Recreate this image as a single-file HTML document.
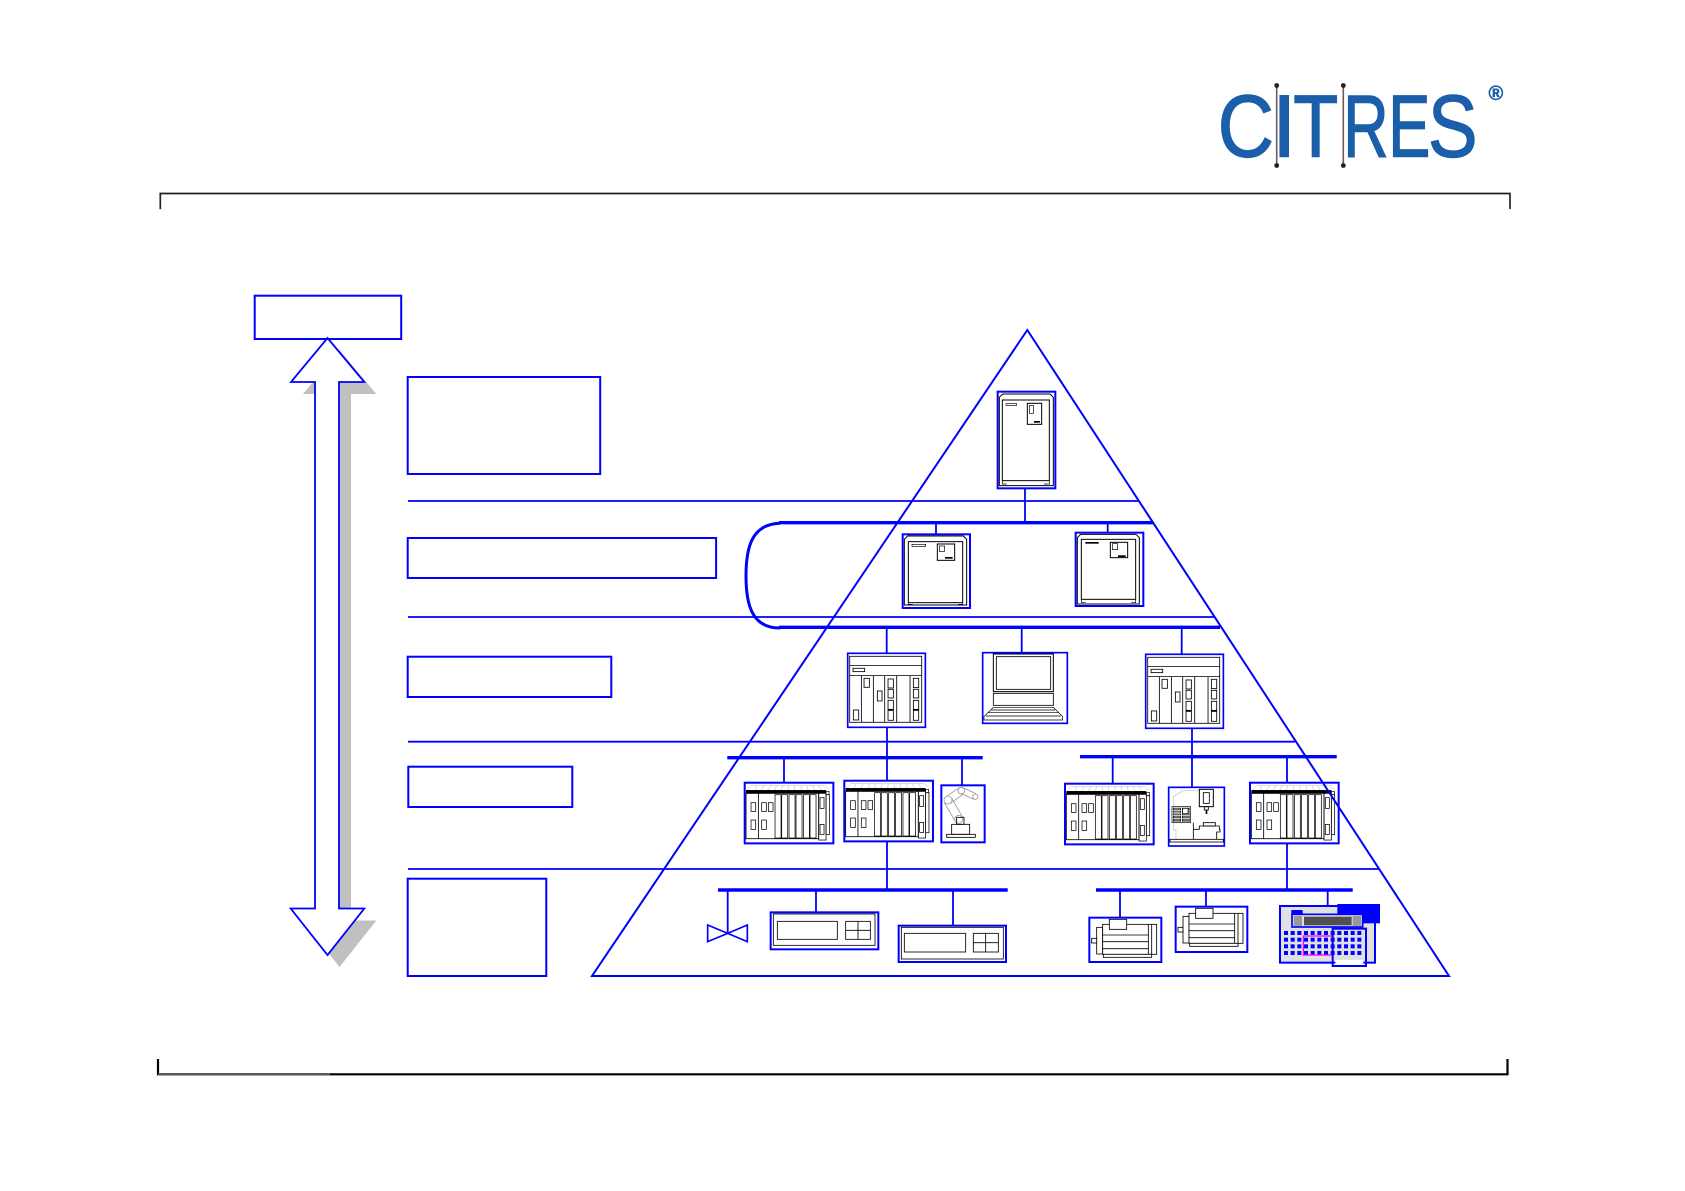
<!DOCTYPE html>
<html><head><meta charset="utf-8"><style>html,body{margin:0;padding:0;background:#fff;}svg{display:block}</style></head>
<body>
<svg xmlns="http://www.w3.org/2000/svg" width="1685" height="1191" viewBox="0 0 1685 1191">
<defs>
<g id="plc">
<rect x="0" y="0" width="233" height="222" fill="#fff" stroke="#00f" stroke-width="5"/>
<rect x="6" y="9" width="216" height="198" fill="none" stroke="#000" stroke-width="2.5"/>
<path d="M6,37 H222 M6,67 H222 M41,67 V207 M77,67 V207 M111,67 V207 M147,67 V207 M187,67 V207" stroke="#000" stroke-width="2.5" fill="none"/>
<g fill="none" stroke="#000" stroke-width="2.5">
<rect x="16" y="45" width="35" height="10"/>
<rect x="49" y="75" width="16" height="27"/>
<rect x="89" y="113" width="14" height="30"/>
<rect x="121" y="77" width="16" height="27"/>
<rect x="121" y="108" width="16" height="26"/>
<rect x="121" y="141" width="16" height="28"/>
<rect x="121" y="171" width="16" height="30"/>
<rect x="17" y="170" width="16" height="30"/>
<rect x="197" y="75" width="16" height="28"/>
<rect x="197" y="108" width="16" height="26"/>
<rect x="197" y="141" width="16" height="28"/>
<rect x="197" y="171" width="16" height="30"/>
</g>
<rect x="121" y="167" width="16" height="5" fill="#000"/>
<rect x="197" y="167" width="16" height="5" fill="#000"/>
</g>
<g id="rack">
<rect x="0" y="0" width="266" height="182" fill="#fff" stroke="#00f" stroke-width="6"/>
<path d="M8,22 L20,8 H240 L252,20 M30,22 L36,8 M50,22 L58,8 M70,22 L78,8 M90,22 L96,8 M110,22 L114,8 M130,22 L132,8 M150,22 L150,8 M170,22 L168,8 M190,22 L186,8 M210,22 L204,8 M230,22 L222,8" fill="none" stroke="#bbb" stroke-width="1.5"/>
<rect x="4" y="22" width="240" height="10" fill="#000"/>
<rect x="244" y="26" width="9" height="10" fill="#fff" stroke="#000" stroke-width="2"/>
<rect x="4" y="32" width="218" height="136" fill="none" stroke="#000" stroke-width="2.5"/>
<path d="M41,32 V168" stroke="#000" stroke-width="2.5"/>
<g fill="none" stroke="#000" stroke-width="2.2">
<rect x="91" y="36" width="18" height="130"/>
<rect x="111" y="36" width="18" height="130"/>
<rect x="133" y="36" width="18" height="130"/>
<rect x="154" y="36" width="18" height="130"/>
<rect x="176" y="36" width="18" height="130"/>
<rect x="196" y="36" width="18" height="130"/>
<rect x="222" y="32" width="22" height="140"/>
<rect x="226" y="45" width="12" height="32"/>
<rect x="226" y="125" width="12" height="30"/>
<rect x="244" y="36" width="10" height="120"/>
<rect x="19" y="60" width="14" height="26"/>
<rect x="51" y="60" width="14" height="26"/>
<rect x="71" y="60" width="14" height="26"/>
<rect x="19" y="112" width="14" height="28"/>
<rect x="51" y="112" width="14" height="28"/>
</g>
</g>
</defs>

<!-- Logo -->
<g fill="#1b5ea9" stroke="#1b5ea9" stroke-width="1.4" font-family="Liberation Sans, Arial, sans-serif" font-size="88">
<text x="1217.8" y="156.7" textLength="56.2" lengthAdjust="spacingAndGlyphs">C</text>
<text x="1272" y="156.7">I</text>
<text x="1293.3" y="156.7" textLength="44.9" lengthAdjust="spacingAndGlyphs">T</text>
<text x="1343.3" y="156.7" textLength="45.4" lengthAdjust="spacingAndGlyphs">R</text>
<text x="1388.3" y="156.7" textLength="42.1" lengthAdjust="spacingAndGlyphs">E</text>
<text x="1428" y="156.7" textLength="49.5" lengthAdjust="spacingAndGlyphs">S</text>
<text x="1488.5" y="100" font-size="20" font-weight="bold" stroke-width="0.5">®</text>
</g>
<g stroke="#6e5b55" stroke-width="1.6">
<line x1="1276.7" y1="85" x2="1276.7" y2="166"/>
<line x1="1343.3" y1="85" x2="1343.3" y2="166"/>
</g>
<g fill="#222">
<circle cx="1276.7" cy="85.5" r="2.4"/><circle cx="1276.7" cy="165.5" r="2.4"/>
<circle cx="1343.3" cy="85.5" r="2.4"/><circle cx="1343.3" cy="165.5" r="2.4"/>
</g>

<!-- Frame -->
<path d="M160.3,209.3 V193.5 H1510 V209" fill="none" stroke="#222" stroke-width="1.7"/>
<path d="M158,1059 V1074.3 H1507.5 V1059" fill="none" stroke="#000" stroke-width="2.2"/>
<path d="M158,1074.3 H330" stroke="#555" stroke-width="2.2"/>

<!-- Arrow -->
<polygon points="339.5,350 376.3,394 351,394 351,920.5 376.3,920.5 339.5,967 302.7,920.5 327,920.5 327,394 303,394" fill="#c0c0c0"/>
<polygon points="327.5,338 364.3,382 339,382 339,908.5 364.3,908.5 327.5,955 290.7,908.5 315,908.5 315,382 291,382" fill="#fff" stroke="#00f" stroke-width="1.8" stroke-linejoin="miter"/>

<!-- Left boxes -->
<g fill="none" stroke="#00f" stroke-width="2">
<rect x="254.7" y="295.7" width="146.5" height="43.3"/>
<rect x="407.7" y="377" width="192.5" height="97"/>
<rect x="407.7" y="538" width="308.4" height="40"/>
<rect x="407.7" y="656.7" width="203.6" height="40.3"/>
<rect x="408.3" y="766.7" width="164" height="40.3"/>
<rect x="407.7" y="878.7" width="138.6" height="97.3"/>
</g>

<!-- Thin separator lines -->
<g stroke="#00f" stroke-width="1.8" fill="none">
<path d="M408,501 H1138 M408,617 H1215 M408,741.7 H1295 M408,869 H1379"/>
</g>

<!-- Buses -->
<g stroke="#00f" stroke-width="3.4" fill="none">
<path d="M779,522.7 H1153.5"/>
<path d="M779,627.3 H1220"/>
<path d="M727.3,757.7 H982.7"/>
<path d="M1080,756.7 H1336.7"/>
<path d="M718,890 H1007.7"/>
<path d="M1096,890 H1352.7"/>
</g>
<path d="M780,523.3 C753,524 746,545 746,576 C746,607 753,628 780,628" fill="none" stroke="#00f" stroke-width="3"/>

<!-- Stubs -->
<g stroke="#00f" stroke-width="1.8" fill="none">
<path d="M1025,484 V522 M936,523 V534.3 M1107.7,523 V532.7 M886.7,627 V653.3 M1021.7,627 V652.7 M1181.7,627 V654.3"/>
<path d="M887,727 V781 M887,841 V890 M784,757 V782.7 M962,757 V785.5 M1112.7,757 V783.7 M1192,728 V787.3 M1287,757 V782.7 M1287,842.7 V890"/>
<path d="M727.7,890 V933.3 M816,890 V912.3 M953,890 V925.7 M1120,890 V917.7 M1206,890 V906.7 M1327.7,890 V906"/>
</g>

<!-- Servers (zoom3 coords) -->
<g transform="translate(740,320) scale(0.33333)">
<rect x="773" y="215" width="173" height="290" fill="#fff" stroke="#00f" stroke-width="6"/>
<path d="M778,232 L788,222 L930,222 L940,232 L940,497 L778,497 Z" fill="#fff" stroke="#000" stroke-width="3"/>
<rect x="787" y="240" width="141" height="242" fill="none" stroke="#000" stroke-width="3"/>
<path d="M787,482 V492 H800 M928,482 V492 H912" stroke="#000" stroke-width="2" fill="none"/>
<rect x="798" y="251" width="32" height="5" fill="none" stroke="#000" stroke-width="2"/>
<rect x="862" y="250" width="43" height="63" fill="none" stroke="#000" stroke-width="3"/>
<rect x="868" y="256" width="12" height="24" fill="none" stroke="#000" stroke-width="2"/>
<rect x="882" y="303" width="18" height="5" fill="#000"/>

<rect x="488" y="643" width="202" height="221" fill="#fff" stroke="#00f" stroke-width="6"/>
<path d="M493,658 L503,648 L670,648 L680,658 L680,855 L493,855 Z" fill="#fff" stroke="#000" stroke-width="3"/>
<rect x="505" y="665" width="163" height="183" fill="none" stroke="#000" stroke-width="3"/>
<path d="M505,848 V853 H518 M668,848 V853 H655" stroke="#000" stroke-width="2" fill="none"/>
<rect x="516" y="673" width="41" height="6" fill="none" stroke="#000" stroke-width="2"/>
<rect x="592" y="672" width="52" height="49" fill="none" stroke="#000" stroke-width="3"/>
<rect x="598" y="678" width="16" height="16" fill="none" stroke="#000" stroke-width="2"/>
<rect x="615" y="711" width="23" height="5" fill="#000"/>

<rect x="1007" y="638" width="203" height="220" fill="#fff" stroke="#00f" stroke-width="6"/>
<path d="M1012,653 L1022,643 L1188,643 L1198,653 L1198,852 L1012,852 Z" fill="#fff" stroke="#000" stroke-width="3"/>
<rect x="1024" y="658" width="163" height="180" fill="none" stroke="#000" stroke-width="3"/>
<path d="M1024,838 V848 H1037 M1187,838 V848 H1174" stroke="#000" stroke-width="2" fill="none"/>
<rect x="1036" y="666" width="40" height="5" fill="#000"/>
<rect x="1111" y="667" width="52" height="46" fill="none" stroke="#000" stroke-width="3"/>
<rect x="1117" y="671" width="16" height="18" fill="none" stroke="#000" stroke-width="2"/>
<rect x="1134" y="706" width="23" height="5" fill="#000"/>
</g>

<!-- PLCs -->
<use href="#plc" transform="translate(847.7,653.3) scale(0.33333)"/>
<use href="#plc" transform="translate(1145.7,654.3) scale(0.33333)"/>

<!-- Computer (zoom4 coords) -->
<g transform="translate(820,630) scale(0.33333)">
<rect x="488" y="68" width="254" height="212" fill="#fff" stroke="#00f" stroke-width="5"/>
<rect x="520" y="72" width="180" height="113" fill="none" stroke="#000" stroke-width="3"/>
<rect x="529" y="80" width="163" height="98" fill="none" stroke="#000" stroke-width="2.5"/>
<rect x="520" y="190" width="180" height="36" fill="none" stroke="#000" stroke-width="2.5"/>
<path d="M520,232 L700,232 L728,260 L728,270 L492,270 L492,260 Z" fill="none" stroke="#000" stroke-width="2"/>
<path d="M515,240 L705,240 M505,248 L715,248 M498,258 L722,258" stroke="#000" stroke-width="2"/>
</g>

<!-- Racks -->
<use href="#rack" transform="translate(744.7,782.7) scale(0.33333)"/>
<use href="#rack" transform="translate(844.3,780.7) scale(0.33333)"/>
<use href="#rack" transform="translate(1065,783.7) scale(0.33333)"/>
<use href="#rack" transform="translate(1250,782.7) scale(0.33333)"/>

<!-- Robot (zoom6 coords) -->
<g transform="translate(700,740) scale(0.33333)">
<rect x="724" y="136" width="130" height="171" fill="#fff" stroke="#00f" stroke-width="6"/>
<g fill="none" stroke="#999" stroke-width="2.5">
<circle cx="776" cy="238" r="12"/>
<circle cx="744" cy="180" r="12"/>
<circle cx="784" cy="152" r="10"/>
<circle cx="826" cy="170" r="8"/>
<path d="M766,244 L733,188 M788,232 L755,174 M738,170 L778,143 M752,190 L790,162 M788,143 L828,161 M782,160 L822,178"/>
</g>
<g fill="none" stroke="#000" stroke-width="2.5">
<rect x="770" y="232" width="22" height="21"/>
<rect x="755" y="253" width="54" height="30"/>
<rect x="740" y="283" width="86" height="9"/>
</g>
</g>

<!-- CNC (zoom5 coords) -->
<g transform="translate(1060,630) scale(0.33333)">
<rect x="326" y="472" width="167" height="176" fill="#fff" stroke="#00f" stroke-width="5"/>
<path d="M340,530 V500 L368,482 H418 M340,578 V600 L348,600 V628" fill="none" stroke="#bbb" stroke-width="2"/>
<rect x="336" y="530" width="56" height="48" fill="#fff" stroke="#000" stroke-width="2"/>
<rect x="339" y="533" width="24" height="42" fill="#222"/>
<rect x="366" y="533" width="23" height="42" fill="#222"/>
<g stroke="#fff" stroke-width="2">
<path d="M339,541 H389 M339,549 H389 M339,557 H389 M339,565 H389 M345,533 V575 M351,533 V575 M357,533 V575 M372,533 V575 M378,533 V575 M384,533 V575"/>
</g>
<rect x="368" y="535" width="16" height="16" fill="#fff" stroke="#000" stroke-width="2"/>
<rect x="418" y="478" width="42" height="52" fill="#fff" stroke="#000" stroke-width="3"/>
<rect x="430" y="488" width="18" height="32" fill="none" stroke="#000" stroke-width="2.5"/>
<rect x="433" y="530" width="12" height="10" fill="none" stroke="#000" stroke-width="2.5"/>
<rect x="437" y="540" width="5" height="12" fill="#000"/>
<rect x="430" y="578" width="36" height="10" fill="none" stroke="#000" stroke-width="2.5"/>
<path d="M400,578 V598 H418 V588 H478 V598 H480 V606 H470 V628 M400,598 V628" fill="none" stroke="#000" stroke-width="2.5"/>
<rect x="330" y="628" width="160" height="8" fill="none" stroke="#000" stroke-width="2.5"/>
</g>

<!-- Bottom devices (zoom7 coords) -->
<g transform="translate(690,880) scale(0.33333)">
<path d="M53,135 L113,160 L53,185 Z M172,135 L113,160 L172,185 Z" fill="none" stroke="#00f" stroke-width="5"/>
<rect x="242" y="97" width="323" height="111" fill="#fff" stroke="#00f" stroke-width="6"/>
<g fill="none" stroke="#000" stroke-width="2.5">
<rect x="250" y="102" width="305" height="94"/>
<rect x="262" y="124" width="180" height="54"/>
<rect x="467" y="124" width="74" height="54"/>
<path d="M504,124 V178 M467,151 H541"/>
</g>
<rect x="626" y="137" width="322" height="109" fill="#fff" stroke="#00f" stroke-width="6"/>
<g fill="none" stroke="#000" stroke-width="2.5">
<rect x="634" y="142" width="306" height="95"/>
<rect x="643" y="160" width="184" height="56"/>
<rect x="850" y="160" width="75" height="56"/>
<path d="M887,160 V216 M850,188 H925"/>
</g>
</g>

<!-- Motors and terminal (zoom8 coords) -->
<g transform="translate(1080,870) scale(0.33333)">
<rect x="28" y="143" width="216" height="133" fill="#fff" stroke="#00f" stroke-width="6"/>
<g fill="#fff" stroke="#000" stroke-width="2.5">
<rect x="50" y="172" width="18" height="80"/>
<rect x="68" y="163" width="162" height="90"/>
<rect x="70" y="253" width="145" height="9"/>
<rect x="35" y="205" width="15" height="14"/>
<path d="M68,195 H205 M68,215 H205 M68,236 H205 M205,163 V253 M215,163 V253" fill="none"/>
<rect x="88" y="148" width="52" height="30"/>
</g>
<rect x="287" y="110" width="215" height="136" fill="#fff" stroke="#00f" stroke-width="6"/>
<g fill="#fff" stroke="#000" stroke-width="2.5">
<rect x="309" y="139" width="18" height="80"/>
<rect x="327" y="130" width="162" height="90"/>
<rect x="329" y="220" width="145" height="9"/>
<rect x="294" y="172" width="15" height="14"/>
<path d="M327,162 H464 M327,182 H464 M327,203 H464 M464,130 V220 M474,130 V220" fill="none"/>
<rect x="347" y="115" width="52" height="30"/>
</g>
<rect x="600" y="108" width="285" height="170" fill="#e0e0e0" stroke="#00f" stroke-width="6"/>
<rect x="772" y="102" width="128" height="58" fill="#00f"/>
<rect x="634" y="120" width="34" height="13" fill="#00f"/>
<rect x="636" y="133" width="212" height="38" fill="#e0e0e0" stroke="#00f" stroke-width="5"/>
<rect x="641" y="138" width="25" height="30" fill="#999"/>
<rect x="818" y="138" width="25" height="30" fill="#999"/>
<rect x="672" y="140" width="143" height="26" fill="#505050"/>
<g fill="#00f">
<rect x="612" y="183" width="12" height="12"/><rect x="632" y="183" width="12" height="12"/><rect x="652" y="183" width="12" height="12"/><rect x="672" y="183" width="12" height="12"/><rect x="692" y="183" width="12" height="12"/><rect x="712" y="183" width="12" height="12"/><rect x="732" y="183" width="12" height="12"/><rect x="752" y="183" width="12" height="12"/><rect x="772" y="183" width="12" height="12"/><rect x="792" y="183" width="12" height="12"/><rect x="812" y="183" width="12" height="12"/><rect x="832" y="183" width="12" height="12"/>
<rect x="612" y="203" width="12" height="12"/><rect x="632" y="203" width="12" height="12"/><rect x="652" y="203" width="12" height="12"/><rect x="672" y="203" width="12" height="12"/><rect x="692" y="203" width="12" height="12"/><rect x="712" y="203" width="12" height="12"/><rect x="732" y="203" width="12" height="12"/><rect x="752" y="203" width="12" height="12"/><rect x="772" y="203" width="12" height="12"/><rect x="792" y="203" width="12" height="12"/><rect x="812" y="203" width="12" height="12"/><rect x="832" y="203" width="12" height="12"/>
<rect x="612" y="223" width="12" height="12"/><rect x="632" y="223" width="12" height="12"/><rect x="652" y="223" width="12" height="12"/><rect x="672" y="223" width="12" height="12"/><rect x="692" y="223" width="12" height="12"/><rect x="712" y="223" width="12" height="12"/><rect x="732" y="223" width="12" height="12"/><rect x="752" y="223" width="12" height="12"/><rect x="772" y="223" width="12" height="12"/><rect x="792" y="223" width="12" height="12"/><rect x="812" y="223" width="12" height="12"/><rect x="832" y="223" width="12" height="12"/>
<rect x="612" y="243" width="12" height="12"/><rect x="632" y="243" width="12" height="12"/><rect x="652" y="243" width="12" height="12"/><rect x="672" y="243" width="12" height="12"/><rect x="692" y="243" width="12" height="12"/><rect x="712" y="243" width="12" height="12"/><rect x="732" y="243" width="12" height="12"/><rect x="752" y="243" width="12" height="12"/><rect x="772" y="243" width="12" height="12"/><rect x="792" y="243" width="12" height="12"/><rect x="812" y="243" width="12" height="12"/><rect x="832" y="243" width="12" height="12"/>
</g>
<rect x="670" y="198" width="88" height="57" fill="none" stroke="#f0f" stroke-width="4"/>
<rect x="758" y="176" width="100" height="112" fill="none" stroke="#00f" stroke-width="6"/>
<rect x="766" y="270" width="84" height="12" fill="#fff"/>
</g>

<!-- Pyramid -->
<path d="M1027.3,330 L592,976 L1449,976 Z" fill="none" stroke="#00f" stroke-width="2" stroke-linejoin="miter"/>
</svg>
</body></html>
